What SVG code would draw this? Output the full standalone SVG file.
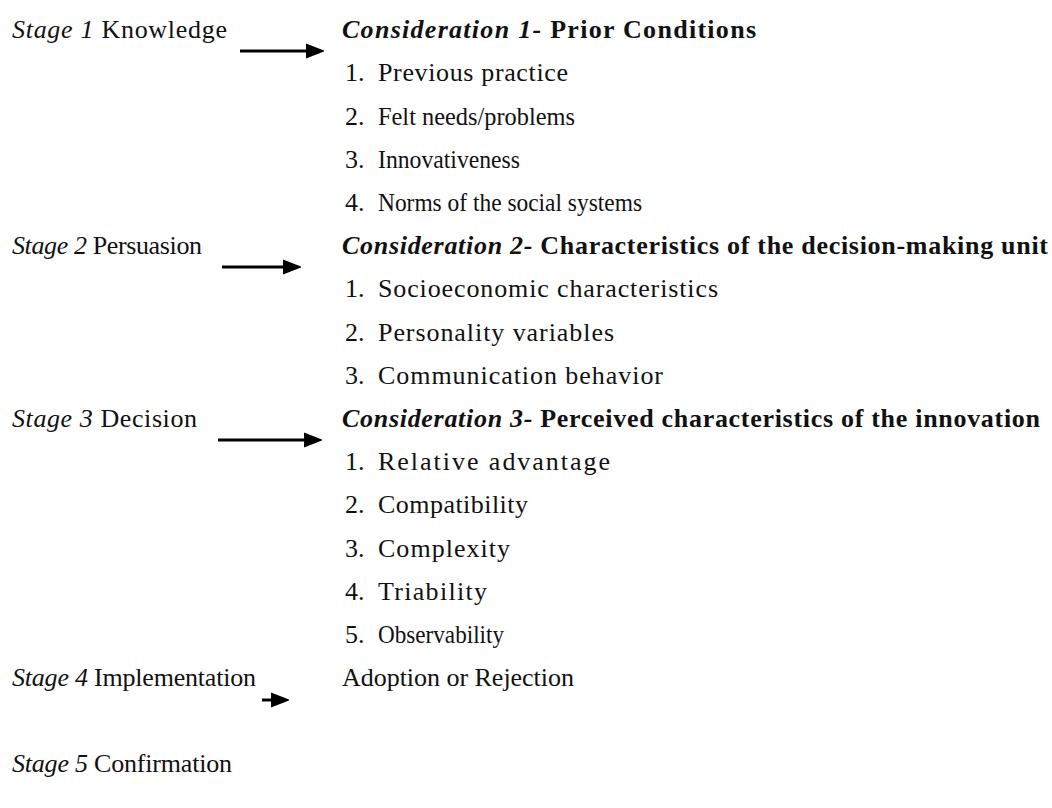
<svg xmlns="http://www.w3.org/2000/svg" width="1052" height="808" viewBox="0 0 1052 808">
<style>
text{font-family:"Liberation Serif","Times New Roman",serif;font-size:26px;fill:#111}
.it{font-style:italic}
.b{font-weight:bold}
.bi{font-weight:bold;font-style:italic}
.conn line{stroke:#000;stroke-width:3}
</style>
<defs>
<marker id="ah" markerWidth="6" markerHeight="6" refX="0.5" refY="3" orient="auto" markerUnits="strokeWidth">
<path d="M0,0.4 L6.5,3 L0,5.6 Z" fill="#000"/>
</marker>
</defs>
<rect width="1052" height="808" fill="#fff"/>
<g id="stages">
<g id="stage1"><text x="12" y="38" textLength="215" lengthAdjust="spacing"><tspan class="it">Stage 1</tspan> Knowledge</text></g>
<g id="stage2"><text x="12" y="254" textLength="190" lengthAdjust="spacing"><tspan class="it">Stage 2</tspan> Persuasion</text></g>
<g id="stage3"><text x="12" y="427" textLength="185" lengthAdjust="spacing"><tspan class="it">Stage 3</tspan> Decision</text></g>
<g id="stage4"><text x="12" y="686" textLength="244" lengthAdjust="spacing"><tspan class="it">Stage 4</tspan> Implementation</text></g>
<g id="stage5"><text x="12" y="772" textLength="220" lengthAdjust="spacing"><tspan class="it">Stage 5</tspan> Confirmation</text></g>
</g>
<g id="consideration1">
<text x="342" y="38" textLength="414" lengthAdjust="spacing"><tspan class="bi">Consideration 1-</tspan><tspan class="b"> Prior Conditions</tspan></text>
<text x="345" y="81">1.</text><text x="378" y="81" textLength="190" lengthAdjust="spacing">Previous practice</text>
<text x="345" y="124.5">2.</text><text x="378" y="124.5" textLength="197" lengthAdjust="spacingAndGlyphs">Felt needs/problems</text>
<text x="345" y="168">3.</text><text x="378" y="168" textLength="142" lengthAdjust="spacingAndGlyphs">Innovativeness</text>
<text x="345" y="211">4.</text><text x="378" y="211" textLength="264" lengthAdjust="spacingAndGlyphs">Norms of the social systems</text>
</g>
<g id="consideration2">
<text x="342" y="254" textLength="706" lengthAdjust="spacing"><tspan class="bi">Consideration 2-</tspan><tspan class="b"> Characteristics of the decision-making unit</tspan></text>
<text x="345" y="297">1.</text><text x="378" y="297" textLength="340" lengthAdjust="spacing">Socioeconomic characteristics</text>
<text x="345" y="340.5">2.</text><text x="378" y="340.5" textLength="236" lengthAdjust="spacing">Personality variables</text>
<text x="345" y="384">3.</text><text x="378" y="384" textLength="285" lengthAdjust="spacing">Communication behavior</text>
</g>
<g id="consideration3">
<text x="342" y="427" textLength="698" lengthAdjust="spacing"><tspan class="bi">Consideration 3-</tspan><tspan class="b"> Perceived characteristics of the innovation</tspan></text>
<text x="345" y="470">1.</text><text x="378" y="470" textLength="232" lengthAdjust="spacing">Relative advantage</text>
<text x="345" y="513">2.</text><text x="378" y="513" textLength="150" lengthAdjust="spacing">Compatibility</text>
<text x="345" y="556.5">3.</text><text x="378" y="556.5" textLength="132" lengthAdjust="spacing">Complexity</text>
<text x="345" y="600">4.</text><text x="378" y="600" textLength="109" lengthAdjust="spacing">Triability</text>
<text x="345" y="643">5.</text><text x="378" y="643" textLength="126" lengthAdjust="spacingAndGlyphs">Observability</text>
</g>
<g id="outcome">
<text x="342" y="686" textLength="232" lengthAdjust="spacing">Adoption or Rejection</text>
</g>
<g id="connectors" class="conn">
<line x1="240" y1="51" x2="307" y2="51" marker-end="url(#ah)"/>
<line x1="222" y1="267" x2="284" y2="267" marker-end="url(#ah)"/>
<line x1="218" y1="440" x2="305" y2="440" marker-end="url(#ah)"/>
<line x1="262" y1="700" x2="272" y2="700" marker-end="url(#ah)"/>
</g>
</svg>
